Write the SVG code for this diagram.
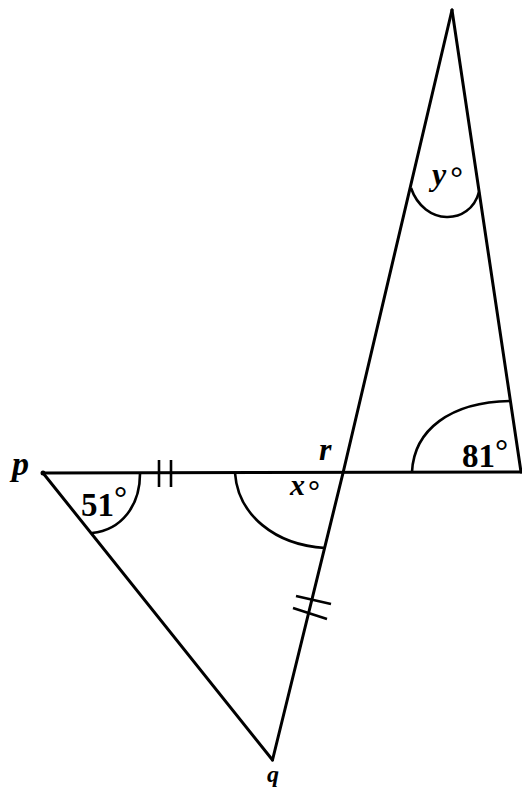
<svg xmlns="http://www.w3.org/2000/svg" width="522" height="796" viewBox="0 0 522 796">
<style>
.ln{fill:none;stroke:#000;stroke-width:3;stroke-linecap:round;stroke-linejoin:round}
.arc{fill:none;stroke:#000;stroke-width:2.6}
.tk{stroke:#000;stroke-width:2.6}
.lbl{font-family:"Liberation Serif","Times New Roman",serif;font-weight:bold;font-style:italic;fill:#000}
.num{font-family:"Liberation Serif","Times New Roman",serif;font-weight:bold;fill:#000}
.deg{font-family:"Liberation Serif","Times New Roman",serif;font-weight:bold;font-style:normal}
</style>
<rect width="522" height="796" fill="#fff"/>
<g id="connectors">
<path class="ln" d="M43,473 L521,472"/>
<path class="ln" d="M452,10 L343,473 L272.5,760"/>
<path class="ln" d="M452,10 L521,472"/>
<path class="ln" d="M43,473 L272.5,760"/>
</g>
<g id="marks">
<line class="tk" x1="159" y1="460" x2="159" y2="487"/>
<line class="tk" x1="171" y1="460" x2="171" y2="487"/>
<line class="tk" x1="296" y1="596" x2="331" y2="604"/>
<line class="tk" x1="293" y1="608" x2="327" y2="619"/>
</g>
<g id="angle-p">
<path class="arc" d="M140,474 C140,505 122,530 92,533"/>
<text class="num" x="81" y="516" font-size="33">51<tspan class="deg" dy="-7">°</tspan></text>
</g>
<g id="angle-x">
<path class="arc" d="M235,473 C238,515 275,545 325,548"/>
<text class="lbl" x="290" y="495" font-size="30">x<tspan class="deg" dx="3" dy="6">°</tspan></text>
</g>
<g id="angle-81">
<path class="arc" d="M412,472 C414,430 450,402 510,401"/>
<text class="num" x="462" y="467" font-size="33">81<tspan class="deg" dy="-5">°</tspan></text>
</g>
<g id="angle-y">
<path class="arc" d="M411,188 C424,226 470,226 479,192"/>
<text class="lbl" x="432" y="185" font-size="32">y<tspan class="deg" dx="4" dy="4">°</tspan></text>
</g>
<g id="node-p">
<circle cx="43" cy="473" r="2.5" fill="#000"/>
<text class="lbl" x="12" y="475" font-size="34">p</text>
</g>
<g id="node-r">
<text class="lbl" x="319" y="460" font-size="32">r</text>
</g>
<g id="node-q">
<text class="lbl" x="273" y="782" font-size="24" text-anchor="middle">q</text>
</g>
</svg>
